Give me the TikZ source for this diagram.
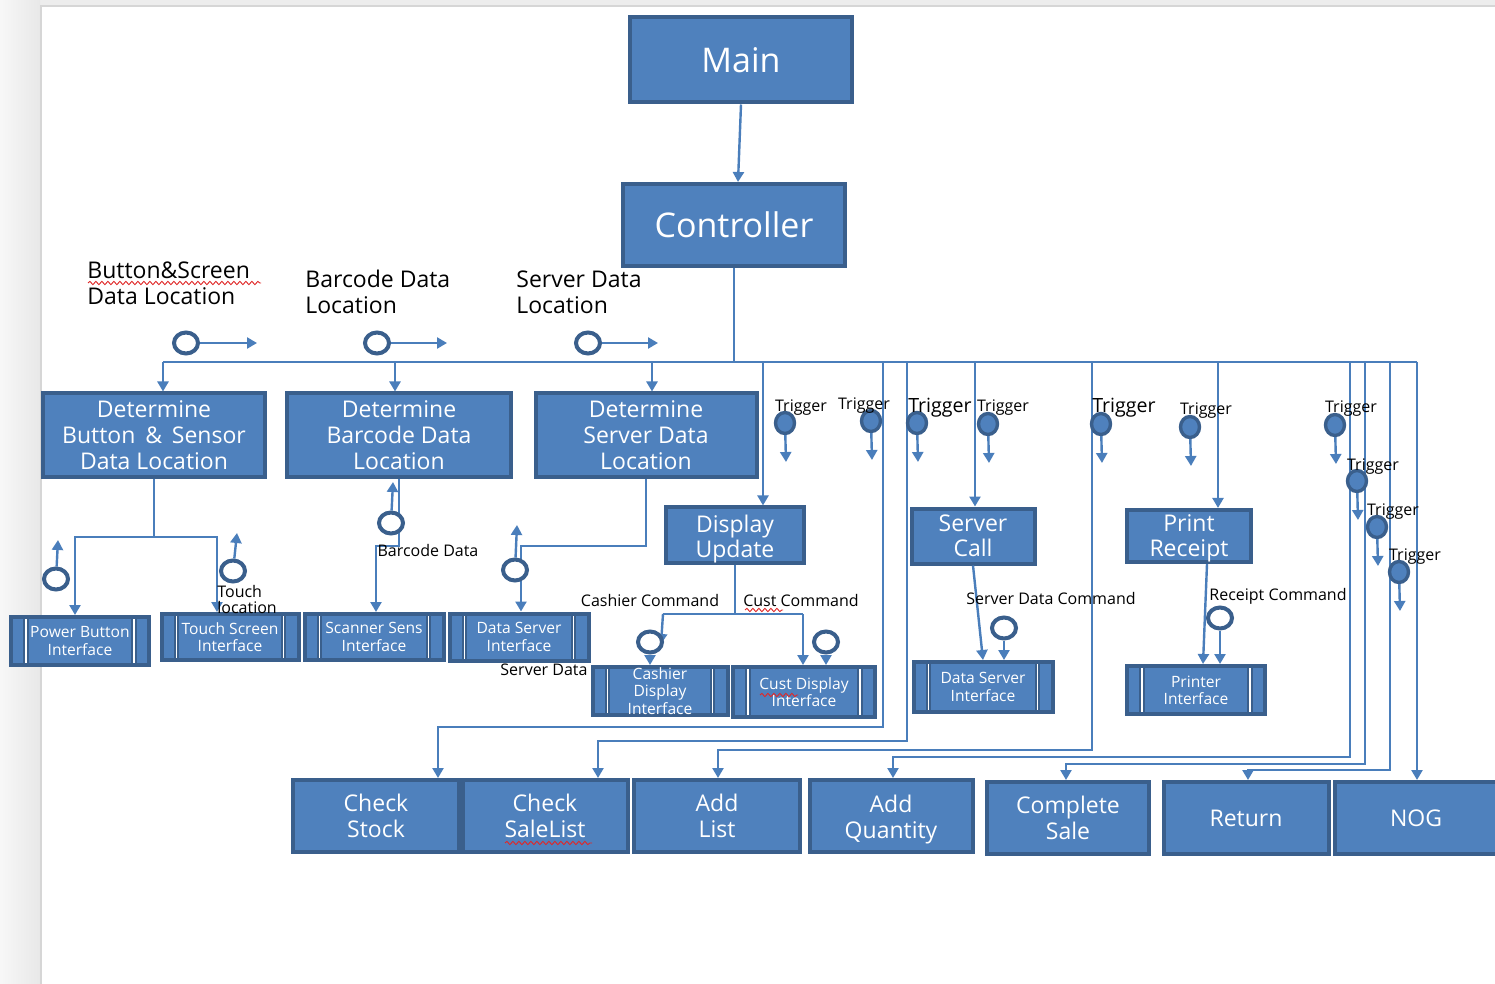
\documentclass[tikz,border=0pt]{standalone}
\usepackage{fontspec}
\setmainfont{Open Sans}
\usetikzlibrary{arrows.meta,shapes.geometric,decorations.pathmorphing,calc}
\definecolor{boxfill}{HTML}{4F81BD}
\definecolor{boxedge}{HTML}{3A5F8C}
\definecolor{linec}{HTML}{4A7EBB}
\definecolor{squigred}{HTML}{E02828}
\newcommand{\setfs}[2]{\fontsize{#1}{#2}\selectfont}

\begin{document}
\begin{tikzpicture}[x=0.5pt,y=-0.5pt,
  box/.style={draw=boxedge, fill=boxfill, line width=2pt, text=white, align=center, inner sep=0pt},
  bigbox/.style={box, font=\setfs{17}{20}},
  midbox/.style={box, font=\setfs{11.5}{13}},
  smbox/.style={box, font=\setfs{11.5}{12.3}},
  ifbox/.style={box, font=\setfs{7.8}{8.6}, path picture={
      \coordinate (pnw) at (path picture bounding box.north west);
      \coordinate (pse) at (path picture bounding box.south east);
      \draw[boxedge, line width=2.6pt]
        ($(pnw)+(7.5pt,0)$) -- ($(pnw|-pse)+(7.5pt,0)$)
        ($(pse|-pnw)+(-7.5pt,0)$) -- ($(pse)+(-7.5pt,0)$);
      \draw[white, line width=0.9pt]
        ($(pnw)+(7.5pt,0)$) -- ($(pnw|-pse)+(7.5pt,0)$)
        ($(pse|-pnw)+(-7.5pt,0)$) -- ($(pse)+(-7.5pt,0)$);
  }},
  dcirc/.style={ellipse, draw=boxedge, fill=white, line width=2pt, minimum width=12pt, minimum height=10.5pt, inner sep=0pt},
  tcirc/.style={ellipse, draw=boxedge, fill=boxfill, line width=1.7pt, minimum width=9.5pt, minimum height=10.5pt, inner sep=0pt},
  wire/.style={draw=linec, line width=1.2pt},
  arrw/.style={wire, -{Triangle[length=5pt,width=5.5pt]}},
  lab/.style={text=black, inner sep=0pt},
  trg/.style={lab, font=\setfs{8}{9}, anchor=base},
  trgb/.style={lab, font=\setfs{9.8}{11}, anchor=base},
  cmdl/.style={lab, font=\setfs{8}{8.2}, anchor=base},
  headl/.style={lab, font=\setfs{11.5}{13}, align=left, anchor=north west},
  squig/.style={draw=squigred, line width=0.45pt, decorate, decoration={snake, amplitude=0.8pt, segment length=3pt}}
]
\useasboundingbox (0,0) rectangle (1495,984);
\clip (0,0) rectangle (1495,984);

% page background
\fill[black!7] (0,0) rectangle (1495,984);
\shade[left color=black!3, right color=black!9] (0,0) rectangle (40,984);
\fill[white] (41,6) rectangle (1495,984);
\draw[black!16, line width=0.6pt] (41,984) -- (41,6) -- (1495,6);

% ---------- boxes ----------
\node[bigbox, minimum width=111pt, minimum height=42.5pt] (main) at (741,60) {Main};
\node[bigbox, minimum width=111pt, minimum height=41pt] (ctrl) at (734,225) {Controller};

\node[midbox, minimum width=111pt, minimum height=41.5pt] (detbtn) at (154,435) {Determine\\Button \,\&\, Sensor\\Data Location};
\node[midbox, minimum width=112pt, minimum height=41.5pt] (detbar) at (399,435) {Determine\\Barcode Data\\Location};
\node[midbox, minimum width=110.5pt, minimum height=41.5pt] (detsrv) at (646,435) {Determine\\Server Data\\Location};

\node[smbox, minimum width=69pt, minimum height=25pt] (dispupd) at (735,535) {\rule{0pt}{12.5pt}Display\\Update};
\node[smbox, minimum width=61.5pt, minimum height=27.5pt] (srvcall) at (973,536) {Server\\Call};
\node[smbox, minimum width=62pt, minimum height=26pt] (prnrcpt) at (1189,536) {\rule{0pt}{11pt}Print\\Receipt};

\node[ifbox, minimum width=69pt, minimum height=24pt] (pbi) at (80,641) {Power Button\\Interface};
\node[ifbox, minimum width=68.5pt, minimum height=23pt] (tsi) at (230,637) {Touch Screen\\Interface};
\node[ifbox, minimum width=69.5pt, minimum height=23pt] (ssi) at (374,637) {Scanner Sens\\Interface};
\node[ifbox, minimum width=69.5pt, minimum height=23.5pt] (dsi1) at (519,637) {Data Server\\Interface};
\node[ifbox, minimum width=67.5pt, minimum height=24pt] (cdi) at (660,691) {Cashier\\Display\\Interface};
\node[ifbox, minimum width=71pt, minimum height=25pt] (cudi) at (804,692) {Cust Display\\Interface};
\node[ifbox, minimum width=69.5pt, minimum height=25pt] (dsi2) at (983,687) {Data Server\\Interface};
\node[ifbox, minimum width=69pt, minimum height=24pt] (pri) at (1196,690) {Printer\\Interface};

\node[midbox, minimum width=83pt, minimum height=36pt] (chkstk) at (376,816) {Check\\Stock};
\node[midbox, minimum width=82.5pt, minimum height=36pt] (chksl) at (545,816) {Check\\SaleList};
\node[midbox, minimum width=83pt, minimum height=36pt] (addlist) at (717,816) {Add\\List};
\node[midbox, minimum width=81.5pt, minimum height=36pt] (addqty) at (891,816) {\rule{0pt}{12.7pt}Add\\Quantity};
\node[midbox, minimum width=81pt, minimum height=36pt] (cmpsale) at (1068,818) {Complete\\Sale};
\node[midbox, minimum width=82.5pt, minimum height=36pt] (ret) at (1246,818) {Return};
\node[midbox, minimum width=81pt, minimum height=36pt] (nog) at (1416,818) {NOG};

% ---------- heading labels ----------
\node[headl] (h1) at (87,261) {Button\&Screen\\Data Location};
\node[headl] (h2) at (305,270) {Barcode Data\\Location};
\node[headl] (h3) at (516,270) {Server Data\\Location};

% ---------- main control flow ----------
\draw[arrw] (main.south) -- ([xshift=2pt]ctrl.north);

\foreach \n/\x in {j1/163, j2/395, j3/652, j4/763, j5/883, j6/907, j7/975, j8/1092, j9/1218, j10/1350, j11/1365, j12/1390, j13/1417}
  \coordinate (\n) at (\x,362);
\draw[wire] (ctrl.south) -- (ctrl.south |- j1);
\draw[wire] (j1) -- (j13);

\draw[arrw] (j1) -- (j1 |- detbtn.north);
\draw[arrw] (j2) -- (j2 |- detbar.north);
\draw[arrw] (j3) -- (j3 |- detsrv.north);
\draw[arrw] (j4) -- (j4 |- dispupd.north);
\draw[arrw] (j7) -- (j7 |- srvcall.north);
\draw[arrw] (j9) -- (j9 |- prnrcpt.north);

% drops to the bottom row
\coordinate (k5) at (438,727);
\coordinate (k6) at (598,741);
\coordinate (k8) at (718,750);
\coordinate (k10) at (893,757);
\coordinate (k11) at (1066,764);
\coordinate (k12) at (1248,770);
\draw[arrw] (j5) |- (k5) -- (k5 |- chkstk.north);
\draw[arrw] (j6) |- (k6) -- (k6 |- chksl.north);
\draw[arrw] (j8) |- (k8) -- (k8 |- addlist.north);
\draw[arrw] (j10) |- (k10) -- (k10 |- addqty.north);
\draw[arrw] (j11) |- (k11) -- (k11 |- cmpsale.north);
\draw[arrw] (j12) |- (k12) -- (k12 |- ret.north);
\draw[arrw] (j13) -- (j13 |- nog.north);

% ---------- data location outputs ----------
\node[dcirc] (d1) at (186,343) {};
\node[dcirc] (d2) at (377,343) {};
\node[dcirc] (d3) at (588,343) {};
\coordinate (d1e) at (257,343);
\coordinate (d2e) at (447,343);
\coordinate (d3e) at (658,343);
\draw[arrw] (d1) -- (d1e);
\draw[arrw] (d2) -- (d2e);
\draw[arrw] (d3) -- (d3e);

% ---------- button & sensor branch ----------
\coordinate (b1) at (75,537);
\coordinate (b2) at (217,537);
\draw[arrw] (detbtn.south) |- (b1) -- (b1 |- pbi.north);
\draw[arrw] (detbtn.south) |- (b2) -- (b2 |- tsi.north);
\node[dcirc] (d4) at (56,579) {};
\node[dcirc] (d5) at (233,571) {};
\coordinate (d4e) at (58,540);
\coordinate (d5e) at (237,533);
\draw[arrw] (d4) -- (d4e);
\draw[arrw] (d5) -- (d5e);
\node[lab, font=\setfs{8}{8}, align=left, anchor=north west] (ltouch) at (217,585) {Touch\\location};

% ---------- barcode branch ----------
\coordinate (b3) at (376,546);
\draw[arrw] (detbar.south) |- (b3) -- (b3 |- ssi.north);
\node[dcirc] (d6) at (391,523) {};
\coordinate (d6e) at (393,482);
\draw[arrw] (d6) -- (d6e);
\node[cmdl] (lbar) at (428,556) {Barcode Data};

% ---------- server data branch ----------
\coordinate (b4) at (521,546);
\draw[arrw] (detsrv.south) |- (b4) -- (b4 |- dsi1.north);
\node[dcirc] (d7) at (515,570) {};
\coordinate (d7e) at (517,525);
\draw[arrw] (d7) -- (d7e);
\node[cmdl] (lsrv) at (544,675) {Server Data};

% ---------- display update branch ----------
\coordinate (b5) at (663,614);
\coordinate (b6) at (803,614);
\coordinate (b5e) at (661,644);
\draw[wire] (dispupd.south) -- (dispupd.south |- b5);
\draw[wire] (b5) -- (b6);
\draw[arrw] (b5) -- (b5e);
\draw[arrw] (b6) -- (b6 |- cudi.north);
\node[dcirc] (d8) at (650,642) {};
\node[dcirc] (d9) at (826,642) {};
\draw[arrw] (d8) -- (d8 |- cdi.north);
\draw[arrw] (d9) -- (d9 |- cudi.north);
\node[cmdl] (lcash) at (650,606) {Cashier Command};
\node[cmdl] (lcust) at (801,606) {Cust Command};

% ---------- server call branch ----------
\draw[arrw] (srvcall.south) -- (dsi2.north);
\node[dcirc] (d10) at (1004,628) {};
\draw[arrw] (d10) -- (d10 |- dsi2.north);
\node[cmdl] (lsdc) at (1051,604) {Server Data Command};

% ---------- print receipt branch ----------
\draw[arrw] ([xshift=9pt]prnrcpt.south) -- ([xshift=3.5pt]pri.north);
\node[dcirc] (d11) at (1220,618) {};
\draw[arrw] (d11) -- (d11 |- pri.north);
\node[cmdl] (lrc) at (1278,600) {Receipt Command};

% ---------- triggers ----------
\foreach \n/\x/\y/\lx/\ly in {t1/785/423/801/412, t2/871/421/864/409, t4/988/424/1003/412, t6/1190/427/1206/415, t7/1335/425/1351/413, t8/1357/481/1373/470, t9/1377/527/1393/515, t10/1399/572/1415/560}{
  \node[tcirc] (\n) at (\x,\y) {};
  \node[trg] (l\n) at (\lx,\ly) {Trigger};
  \coordinate (e\n) at (\x+1,\y+39);
  \draw[arrw] (\n) -- (e\n);
}
\foreach \n/\x/\y/\lx/\ly in {t3/917/423/940/413, t5/1101/424/1124/413}{
  \node[tcirc] (\n) at (\x,\y) {};
  \node[trgb] (l\n) at (\lx,\ly) {Trigger};
  \coordinate (e\n) at (\x+1,\y+39);
  \draw[arrw] (\n) -- (e\n);
}

% ---------- spell-check underlines ----------
\coordinate (s1a) at (88,283);  \coordinate (s1b) at (261,283);
\coordinate (s2a) at (505,843); \coordinate (s2b) at (592,843);
\coordinate (s3a) at (745,610); \coordinate (s3b) at (783,610);
\coordinate (s4a) at (760,695); \coordinate (s4b) at (798,695);
\draw[squig] (s1a) -- (s1b);
\draw[squig] (s2a) -- (s2b);
\draw[squig] (s3a) -- (s3b);
\draw[squig] (s4a) -- (s4b);
\end{tikzpicture}
\end{document}
